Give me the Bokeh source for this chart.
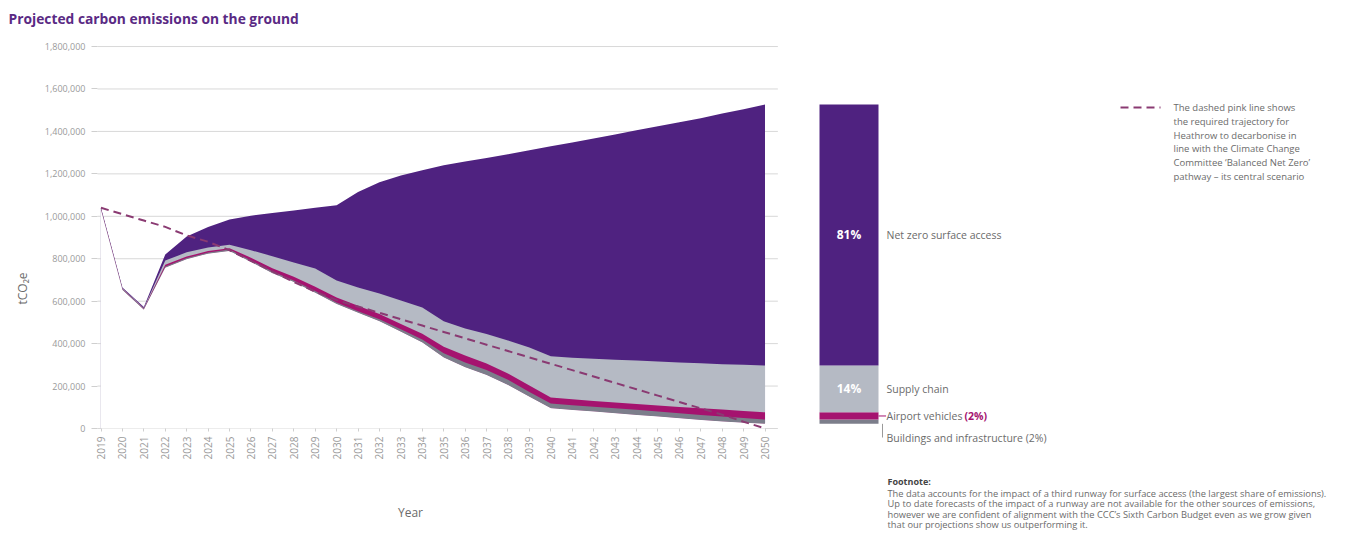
import math
from bokeh.plotting import figure
from bokeh.models import Range1d, FixedTicker, Label, NumeralTickFormatter
from bokeh.embed import file_html
from bokeh.resources import INLINE

# ---------------- data (tCO2e) ----------------
years = list(range(2019, 2051))
# hidden white offset below the stacked layers
base = [1028000, 653000, 560000, 758000, 798000, 824000, 836000, 785000, 732000, 690000,
        640000, 587000, 545000, 505000, 456000, 405000, 335000, 289000, 252000, 205000,
        150000, 95000, 87000, 80000, 72000, 64000, 56000, 48000, 40000, 33000, 27000, 22000]
buildings = [4000, 4000, 4000, 6000, 5000, 5000, 7000, 7000, 8000, 8000,
             8000, 7000, 8000, 10000, 12000, 15000, 20000, 22000, 24000, 25000,
             22000, 23000, 23000, 23000, 24000, 24000, 24000, 24000, 24000, 23000, 22000, 20000]
vehicles = [2000, 2000, 2000, 8000, 7000, 7000, 7000, 13000, 15000, 17000,
            20000, 23000, 25000, 25000, 25000, 27000, 30000, 33000, 30000, 29000,
            31000, 28000, 28000, 27000, 26000, 27000, 28000, 29000, 31000, 33000, 33000, 34000]
supply = [2000, 2000, 2000, 20000, 20000, 17000, 16000, 35000, 57000, 67000,
          86000, 80000, 87000, 96000, 110000, 123000, 120000, 127000, 139000, 156000,
          179000, 194000, 196000, 199000, 202000, 205000, 208000, 210000, 212000, 214000, 218000, 221000]
surface = [4000, 4000, 4000, 28000, 75000, 97000, 119000, 163000, 203000, 245000,
           286000, 355000, 450000, 524000, 589000, 647000, 735000, 787000, 830000, 877000,
           929000, 990000, 1014000, 1038000, 1062000, 1085000, 1108000, 1132000, 1155000, 1181000, 1205000, 1230000]
ccc_path = [1040000, 1010000, 980000, 950000, 910000, 880000, 840000, 790000, 740000, 690000,
            645000, 605000, 575000, 545000, 515000, 485000, 455000, 425000, 395000, 365000,
            335000, 305000, 275000, 245000, 215000, 185000, 155000, 125000, 95000, 65000, 32000, 0]

layer_names = ["Buildings and infrastructure", "Airport vehicles", "Supply chain", "Net zero surface access"]
layer_values = [buildings, vehicles, supply, surface]
layer_colors = ["#7c7e8b", "#a5136f", "#b5bac4", "#4f2280"]
share_labels = ["2%", "2%", "14%", "81%"]
y_ticks = [0, 200000, 400000, 600000, 800000, 1000000, 1200000, 1400000, 1600000, 1800000]

# cumulative tops
cum = []
run = list(base)
for vals in layer_values:
    run = [a + b for a, b in zip(run, vals)]
    cum.append(run)

# ---------------- layout helpers (pixel -> data) ----------------
X0PX, PX_PER_YEAR = 100.5, 21.42
Y0PX, PX_PER_UNIT = 428.0, 42.44 / 200000
W, H = 1353, 539


def sx(px):
    return years[0] + (px - X0PX) / PX_PER_YEAR


def sy(py):
    return (Y0PX - py) / PX_PER_UNIT


FONT = "Open Sans"
GRAY = "#6b6b6b"

p = figure(width=W, height=H, output_backend="svg", toolbar_location=None, title=None,
           x_range=Range1d(sx(0), sx(W)), y_range=Range1d(sy(H), sy(0)),
           min_border_left=0, min_border_right=0, min_border_top=0, min_border_bottom=0)
p.outline_line_color = None
p.background_fill_color = "white"
p.border_fill_color = "white"
p.xgrid.visible = False
p.ygrid.visible = False

# axes, pinned inside the (full-canvas) frame
p.xaxis.fixed_location = 0
p.xaxis.bounds = (years[0], years[-1])
p.xaxis.ticker = FixedTicker(ticks=years)
p.xaxis.major_label_orientation = math.pi / 2
p.xaxis.axis_line_color = None
p.xaxis.major_tick_line_color = "#cfcfcf"
p.xaxis.major_tick_out = 3
p.xaxis.major_tick_in = 0
p.xaxis.minor_tick_line_color = None
p.xaxis.major_label_text_font = FONT
p.xaxis.major_label_text_font_size = "10px"
p.xaxis.major_label_text_color = "#9a9a9a"
p.xaxis.major_label_standoff = 5

p.yaxis.fixed_location = sx(97)
p.yaxis.bounds = (y_ticks[0], y_ticks[-1])
p.yaxis.ticker = FixedTicker(ticks=y_ticks)
p.yaxis.formatter = NumeralTickFormatter(format="0,0")
p.yaxis.axis_line_color = None
p.yaxis.major_tick_line_color = "#cfcfcf"
p.yaxis.major_tick_out = 6
p.yaxis.major_tick_in = 0
p.yaxis.minor_tick_line_color = None
p.yaxis.major_label_text_font = FONT
p.yaxis.major_label_text_font_size = "9px"
p.yaxis.major_label_text_color = "#9a9a9a"
p.yaxis.major_label_standoff = 6

# grid lines (only across the chart part)
gx0, gx1 = sx(97), years[-1] + 0.6
p.segment(x0=[gx0] * len(y_ticks), y0=y_ticks, x1=[gx1] * len(y_ticks), y1=y_ticks,
          line_color="#d8d8d8", line_width=1)
p.segment(x0=[years[0]], y0=[0], x1=[years[0]], y1=[cum[-1][0]], line_color="#d2cfdc", line_width=1)

# stacked areas (drawn from the top layer down so that no seams show)
for top, color in reversed(list(zip(cum, layer_colors))):
    p.varea(x=years, y1=base, y2=top, fill_color=color)
p.varea(x=years, y1=[0] * len(years), y2=base, fill_color="white")

# CCC trajectory
p.line(x=years, y=ccc_path, line_color="#8a3a72", line_width=2, line_dash="8 5")

# right-hand 2050 breakdown bar
bar_x, bar_w = sx(848.5), 59 / PX_PER_YEAR
bottoms = [base[-1]] + [c[-1] for c in cum[:-1]]
tops = [c[-1] for c in cum]
p.quad(left=[bar_x - bar_w / 2] * 4, right=[bar_x + bar_w / 2] * 4,
       bottom=bottoms, top=tops, fill_color=layer_colors, line_color=None)

for i in (3, 2):
    p.add_layout(Label(x=bar_x, y=(bottoms[i] + tops[i]) / 2, text=share_labels[i],
                       text_align="center", text_baseline="middle", text_font=FONT,
                       text_font_style="bold", text_font_size="12px", text_color="white"))

lab_x = sx(886)
p.add_layout(Label(x=lab_x, y=(bottoms[3] + tops[3]) / 2, text=layer_names[3],
                   text_baseline="middle", text_font=FONT, text_font_size="10.5px", text_color=GRAY))
p.add_layout(Label(x=lab_x, y=(bottoms[2] + tops[2]) / 2, text=layer_names[2],
                   text_baseline="middle", text_font=FONT, text_font_size="10.5px", text_color=GRAY))
veh_y = (bottoms[1] + tops[1]) / 2
p.segment(x0=[bar_x + bar_w / 2], y0=[veh_y], x1=[lab_x - 0.02], y1=[veh_y],
          line_color=layer_colors[1], line_width=1)
p.add_layout(Label(x=lab_x, y=veh_y, text=layer_names[1],
                   text_baseline="middle", text_font=FONT, text_font_size="10.5px", text_color=GRAY))
p.add_layout(Label(x=sx(964), y=veh_y, text="(" + share_labels[1] + ")",
                   text_baseline="middle", text_font=FONT, text_font_style="bold",
                   text_font_size="10.5px", text_color=layer_colors[1]))
bld_y = sy(437)
p.segment(x0=[sx(882)], y0=[bottoms[0]], x1=[sx(882)], y1=[bld_y], line_color="#9a9a9a", line_width=1)
p.add_layout(Label(x=lab_x, y=bld_y, text=layer_names[0] + " (" + share_labels[0] + ")",
                   text_baseline="middle", text_font=FONT, text_font_size="10.5px", text_color=GRAY))

# legend for dashed line
p.line(x=[sx(1120), sx(1160)], y=[sy(107), sy(107)], line_color="#8a3a72",
       line_width=2, line_dash="8 5")
legend_lines = ["The dashed pink line shows", "the required trajectory for",
                "Heathrow to decarbonise in", "line with the Climate Change",
                "Committee \u2018Balanced Net Zero\u2019", "pathway \u2013 its central scenario"]
for i, t in enumerate(legend_lines):
    p.add_layout(Label(x=sx(1173), y=sy(107 + i * 13.8), text=t, text_baseline="middle",
                       text_font=FONT, text_font_size="9.5px", text_color=GRAY))

# title, axis titles
p.add_layout(Label(x=sx(8), y=sy(18), text="Projected carbon emissions on the ground",
                   text_baseline="middle", text_font=FONT, text_font_style="bold",
                   text_font_size="13.8px", text_color="#5a2a84"))
p.add_layout(Label(x=sx(22), y=sy(288), text="tCO\u2082e", angle=math.pi / 2,
                   text_align="center", text_baseline="middle", text_font=FONT,
                   text_font_size="12px", text_color=GRAY))
p.add_layout(Label(x=sx(410), y=sy(512), text="Year", text_align="center",
                   text_baseline="middle", text_font=FONT, text_font_size="12px",
                   text_color=GRAY))

# footnote
foot = ["The data accounts for the impact of a third runway for surface access (the largest share of emissions).",
        "Up to date forecasts of the impact of a runway are not available for the other sources of emissions,",
        "however we are confident of alignment with the CCC\u2019s Sixth Carbon Budget even as we grow given",
        "that our projections show us outperforming it."]
p.add_layout(Label(x=sx(887), y=sy(481), text="Footnote:", text_baseline="middle",
                   text_font=FONT, text_font_style="bold", text_font_size="9px", text_color="#444444"))
for i, t in enumerate(foot):
    p.add_layout(Label(x=sx(887), y=sy(493 + i * 10.3), text=t, text_baseline="middle",
                       text_font=FONT, text_font_size="9.3px", text_color=GRAY))

open("out.html", "w").write(file_html(p, INLINE))
